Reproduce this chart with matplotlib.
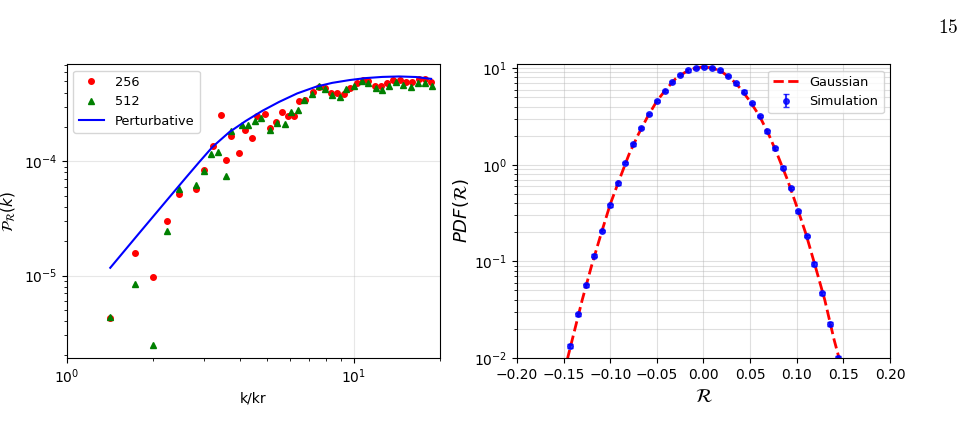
import numpy as np
import matplotlib.pyplot as plt

# left panel: power spectrum
k_256=[1.416,1.731,1.995,2.233,2.452,2.826,3.006,3.23,3.45,3.59,3.72,3.97,4.18,4.42,4.60,4.91,5.09,5.37,5.61,5.90,
       6.18,6.45,6.78,7.19,7.55,7.93,8.33,8.75,9.28,9.71,10.24,10.74,11.24,11.90,12.45,13.06,13.75,14.51,15.22,16.02,
       16.86,17.73,18.57]
p_256=[4.26e-6,1.59e-5,9.8e-6,3.02e-5,5.17e-5,5.68e-5,8.4e-5,1.37e-4,2.55e-4,1.03e-4,1.66e-4,1.18e-4,1.88e-4,1.59e-4,
       2.47e-4,2.62e-4,1.94e-4,2.21e-4,2.71e-4,2.50e-4,2.50e-4,3.38e-4,3.45e-4,4.03e-4,4.45e-4,4.37e-4,4.0e-4,3.95e-4,
       3.87e-4,4.37e-4,4.83e-4,5.16e-4,5.05e-4,4.58e-4,4.52e-4,4.83e-4,5.16e-4,5.10e-4,4.90e-4,4.90e-4,5.23e-4,5.23e-4,
       4.97e-4]
k_512=[1.416,1.731,1.995,2.233,2.452,2.826,3.006,3.17,3.35,3.59,3.72,4.09,4.27,4.54,4.76,5.09,5.38,5.76,6.04,6.41,
       6.72,7.17,7.57,7.95,8.38,8.93,9.43,10.05,10.66,11.24,11.94,12.52,13.3,14.1,14.9,15.8,16.8,17.7,18.7]
p_512=[4.3e-6,8.5e-6,2.45e-6,2.48e-5,5.75e-5,6.15e-5,8.28e-5,1.17e-4,1.21e-4,7.4e-5,1.86e-4,2.07e-4,2.06e-4,2.24e-4,
       2.40e-4,1.88e-4,2.18e-4,2.14e-4,2.69e-4,2.80e-4,3.41e-4,3.87e-4,4.52e-4,4.28e-4,3.83e-4,3.62e-4,4.28e-4,4.52e-4,
       5.05e-4,4.83e-4,4.42e-4,4.22e-4,4.52e-4,4.95e-4,4.62e-4,4.45e-4,4.83e-4,4.83e-4,4.52e-4]
k_pert=[1.416,1.778,2.239,2.604,2.896,3.221,3.681,4.207,4.805,5.491,6.353,7.396,8.414,9.661,10.99,12.59,14.39,
        16.48,18.62]
p_pert=[1.17e-5,2.32e-5,4.62e-5,7.24e-5,9.89e-5,1.34e-4,1.80e-4,2.26e-4,2.77e-4,3.31e-4,3.93e-4,4.50e-4,4.86e-4,
        5.14e-4,5.35e-4,5.48e-4,5.53e-4,5.47e-4,5.27e-4]

# right panel: PDF of R
r_sim=[-0.1428,-0.1345,-0.1259,-0.1177,-0.1088,-0.1005,-0.0919,-0.0837,-0.0751,-0.0665,-0.0583,-0.0501,-0.0415,
       -0.0333,-0.0247,-0.0161,-0.0075,0.0007,0.0093,0.0175,0.0261,0.0347,0.0429,0.0515,0.0601,0.0683,0.0769,0.0848,
       0.0937,0.1016,0.1109,0.1188,0.1274,0.1356,0.1445]
pdf_sim=[0.0133,0.0285,0.0565,0.1145,0.2075,0.379,0.641,1.04,1.62,2.41,3.34,4.56,5.83,7.22,8.47,9.46,10.08,10.24,
         10.08,9.46,8.27,6.94,5.69,4.35,3.19,2.21,1.48,0.931,0.574,0.329,0.183,0.0938,0.0467,0.0226,0.0100]
pdf_err=[0.0006,0.001,0.002,0.004,0.006,0.011,0.02,0.03,0.05,0.07,0.1,0.13,0.17,0.2,0.24,0.27,0.28,0.29,0.28,0.27,
         0.24,0.2,0.17,0.13,0.1,0.07,0.05,0.03,0.02,0.011,0.006,0.004,0.002,0.001,0.0006]
r_gauss=[-0.15,-0.14,-0.13,-0.12,-0.11,-0.10,-0.09,-0.08,-0.07,-0.06,-0.05,-0.04,-0.03,-0.02,-0.01,0.0,
         0.01,0.02,0.03,0.04,0.05,0.06,0.07,0.08,0.09,0.10,0.11,0.12,0.13,0.14,0.15]
pdf_gauss=[0.0068,0.0165,0.040,0.09,0.19,0.39,0.71,1.27,2.05,3.13,4.56,6.05,7.75,9.0,9.9,10.3,
           10.0,9.1,7.7,6.1,4.5,3.2,2.05,1.22,0.70,0.37,0.19,0.088,0.040,0.0155,0.0068]

fig=plt.figure(figsize=(9.69,4.4),dpi=100)
ax1=fig.add_axes([0.0691,0.1864,0.385,0.668])
ax2=fig.add_axes([0.5335,0.1864,0.385,0.668])

ax1.plot(k_256,p_256,'o',color='red',ms=4,label='256')
ax1.plot(k_512,p_512,'^',color='green',ms=4,label='512')
ax1.plot(k_pert,p_pert,color='blue',lw=1.5,label='Perturbative')
ax1.set_xscale('log')
ax1.set_yscale('log')
ax1.set_xlim(1,20)
ax1.set_ylim(1.9e-6,7.1e-4)
ax1.set_xlabel('k/kr')
ax1.set_ylabel(r'$\mathcal{P}_\mathcal{R}(k)$',fontsize=11)
ax1.grid(True,alpha=0.3)
ax1.legend(loc='upper left',fontsize=9.3)

ax2.plot(r_gauss,pdf_gauss,'--',color='red',lw=2,label='Gaussian')
ax2.errorbar(r_sim,pdf_sim,yerr=pdf_err,fmt='o',color='blue',ms=4,alpha=0.8,capsize=2,label='Simulation')
ax2.set_yscale('log')
ax2.set_xlim(-0.2,0.2)
ax2.set_ylim(1e-2,11)
ax2.set_xlabel(r'$\mathcal{R}$',fontsize=14)
ax2.set_ylabel(r'$PDF(\mathcal{R})$',fontsize=13,labelpad=2)
ax2.grid(True,which='both',alpha=0.4)
ax2.legend(loc='upper right',fontsize=9.3)

fig.text(0.989,0.958,r'$\mathrm{15}$',math_fontfamily='cm',fontsize=14,ha='right',va='top')

plt.savefig('out.png',dpi=100)
